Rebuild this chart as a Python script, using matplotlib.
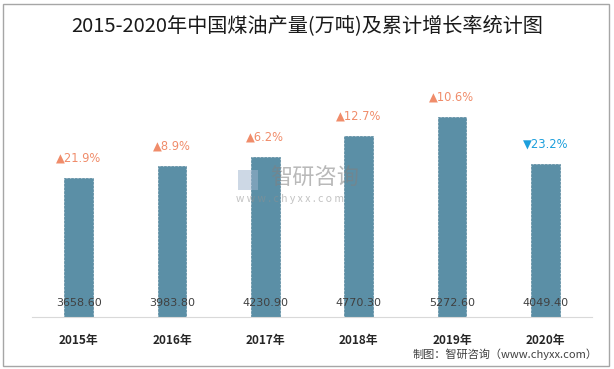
import matplotlib.pyplot as plt
from matplotlib.patches import Rectangle

plt.rcParams['font.family'] = ['Noto Sans CJK SC', 'DejaVu Sans']

years = ['2015年', '2016年', '2017年', '2018年', '2019年', '2020年']
output = [3658.60, 3983.80, 4230.90, 4770.30, 5272.60, 4049.40]
growth = [21.9, 8.9, 6.2, 12.7, 10.6, -23.2]

fig = plt.figure(figsize=(6.14, 3.69), dpi=100)
ax = fig.add_axes([32/614, 1-317/369, 560/614, 265/369])

x = range(len(years))
ax.bar(x, output, width=0.31, color='#5B8FA6', edgecolor='#55869C',
       linewidth=0.5, linestyle='--', zorder=2)
ax.set_xlim(-0.5, 5.5)
ax.set_ylim(0, 7000)

for i, (v, g) in enumerate(zip(output, growth)):
    ax.text(i, 380, f'{v:.2f}', ha='center', va='center', fontsize=8,
            color='#404040', family='DejaVu Sans', zorder=4)
    if g >= 0:
        lab, col = f'▲{g:.1f}%', '#F08C6A'
    else:
        lab, col = f'▼{abs(g):.1f}%', '#1C9FDC'
    ax.text(i, v + 530, lab, ha='center', va='center', fontsize=8.3,
            color=col, family='DejaVu Sans', zorder=4)

for s in ['top', 'right', 'left']:
    ax.spines[s].set_visible(False)
ax.spines['bottom'].set_color('#D9D9D9')
ax.set_yticks([])
ax.set_xticks(list(x))
ax.set_xticklabels(years, fontsize=8.5, fontweight='bold', color='#262626')
ax.tick_params(axis='x', length=0, pad=12)

fig.text(0.5, 1-26/369, '2015-2020年中国煤油产量(万吨)及累计增长率统计图',
         ha='center', va='center', fontsize=14.5, color='#1a1a1a')
fig.text(598/614, 1-354/369, '制图：智研咨询（www.chyxx.com）', ha='right',
         va='center', fontsize=8, color='#404040')

# watermark
fig.text(270/614, 1-178/369, '智研咨询', ha='left', va='center', fontsize=16,
         color='#808080', alpha=0.55, zorder=5)
fig.text(236/614, 1-199/369, 'w w w . c h y x x . c o m', ha='left',
         va='center', fontsize=7.5, color='#909090', alpha=0.55, zorder=5)
fig.patches.append(Rectangle((238/614, 1-190/369), 20/614, 20/369,
                             transform=fig.transFigure, facecolor='#9DB3CC',
                             alpha=0.5, edgecolor='none', zorder=5))

fig.patches.append(Rectangle((3/614, 3/369), 606/614, 362/369,
                             transform=fig.transFigure, fill=False,
                             edgecolor='#A6A6A6', linewidth=1))

fig.savefig('out.png', dpi=100)
